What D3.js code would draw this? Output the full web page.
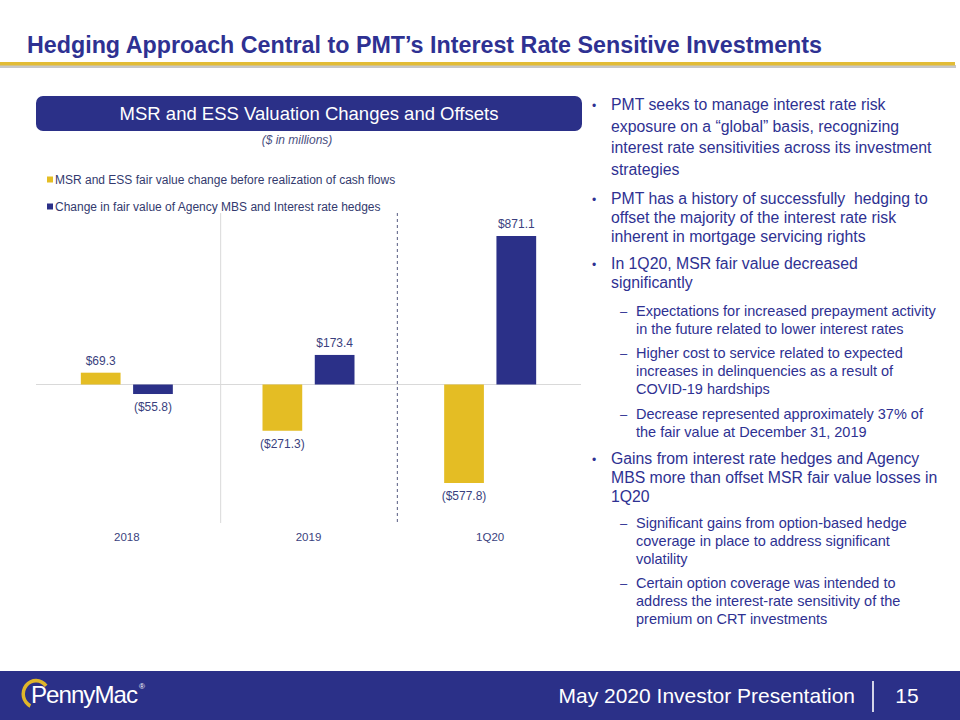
<!DOCTYPE html>
<html><head><meta charset="utf-8">
<script src="https://cdn.jsdelivr.net/npm/d3@7"></script>
<style>
html,body{margin:0;padding:0;background:#fff;}
svg{display:block;font-family:"Liberation Sans",Arial,sans-serif;}
</style></head>
<body>
<svg id="c" width="960" height="720"></svg>
<script>
// ---- data ----
const categories = ["2018", "2019", "1Q20"];
const seriesNames = ["MSR and ESS fair value change before realization of cash flows",
                     "Change in fair value of Agency MBS and Interest rate hedges"];
const msrValues = [69.3, -271.3, -577.8];
const hedgeValues = [-55.8, 173.4, 871.1];
const valueLabels = [["$69.3", "($55.8)"], ["($271.3)", "$173.4"], ["($577.8)", "$871.1"]];

const titleText = "Hedging Approach Central to PMT’s Interest Rate Sensitive Investments";
const panelTitle = "MSR and ESS Valuation Changes and Offsets";
const unitsNote = "($ in millions)";
const footerText = "May 2020 Investor Presentation";
const pageNumber = "15";

const bullets = [
  {level: 1, lines: ["PMT seeks to manage interest rate risk", "exposure on a “global” basis, recognizing", "interest rate sensitivities across its investment", "strategies"]},
  {level: 1, lines: ["PMT has a history of successfully  hedging to", "offset the majority of the interest rate risk", "inherent in mortgage servicing rights"]},
  {level: 1, lines: ["In 1Q20, MSR fair value decreased", "significantly"]},
  {level: 2, lines: ["Expectations for increased prepayment activity", "in the future related to lower interest rates"]},
  {level: 2, lines: ["Higher cost to service related to expected", "increases in delinquencies as a result of", "COVID-19 hardships"]},
  {level: 2, lines: ["Decrease represented approximately 37% of", "the fair value at December 31, 2019"]},
  {level: 1, lines: ["Gains from interest rate hedges and Agency", "MBS more than offset MSR fair value losses in", "1Q20"]},
  {level: 2, lines: ["Significant gains from option-based hedge", "coverage in place to address significant", "volatility"]},
  {level: 2, lines: ["Certain option coverage was intended to", "address the interest-rate sensitivity of the", "premium on CRT investments"]}
];

// ---- styles / layout ----
const NAVY = "#2b3088";
const GOLD = "#e4bd24";
const TXT = "#3a3f7e";
const svg = d3.select("#c");

// Title
svg.append("text").attr("x", 27).attr("y", 53)
  .attr("font-size", 23.5).attr("font-weight", "bold").attr("fill", "#2e3192")
  .style("font-family", "'Liberation Sans Narrow','Arial Narrow','Liberation Sans',Arial,sans-serif")
  .attr("textLength", 795).attr("lengthAdjust", "spacingAndGlyphs")
  .text(titleText);
// gold rule with shadow
svg.append("rect").attr("x", 0).attr("y", 65).attr("width", 956).attr("height", 3).attr("fill", "#c8c8c8");
svg.append("rect").attr("x", 0).attr("y", 62).attr("width", 955).attr("height", 3.5).attr("fill", "#e2bc36");

// Panel header
svg.append("rect").attr("x", 36).attr("y", 96).attr("width", 546).attr("height", 35).attr("rx", 7)
  .attr("fill", NAVY);
svg.append("text").attr("x", 309).attr("y", 120).attr("text-anchor", "middle")
  .attr("font-size", 18.5).attr("fill", "#fff").text(panelTitle);
svg.append("text").attr("x", 297).attr("y", 144).attr("text-anchor", "middle")
  .attr("font-size", 12).attr("font-style", "italic").attr("fill", "#4a4f80").text(unitsNote);

// Legend
const legColors = [GOLD, NAVY];
seriesNames.forEach((s, i) => {
  const ly = 180 + i * 27;
  svg.append("rect").attr("x", 47).attr("y", ly - 3.5).attr("width", 6).attr("height", 6).attr("fill", legColors[i]);
  svg.append("text").attr("x", 55).attr("y", ly + 4).attr("font-size", 12).attr("fill", "#333a6e").text(s);
});

// Chart scales
const x0 = d3.scaleBand().domain(categories).range([36, 581]).padding(0);
const pair = 92;
const x1 = d3.scaleBand().domain([0, 1]).range([x0.bandwidth() / 2 - pair / 2, x0.bandwidth() / 2 + pair / 2]).paddingInner(0.24);
const y = d3.scaleLinear().domain([0, 871.1]).range([384.5, 236]);

const g = svg.append("g");
// separators
g.append("line").attr("x1", x0("2019") + 3).attr("x2", x0("2019") + 3).attr("y1", 213).attr("y2", 523)
  .attr("stroke", "#d9d9d9").attr("stroke-width", 1);
g.append("line").attr("x1", x0("1Q20") - 2).attr("x2", x0("1Q20") - 2).attr("y1", 213).attr("y2", 523)
  .attr("stroke", "#555a80").attr("stroke-width", 1).attr("stroke-dasharray", "3,3");
// baseline
g.append("line").attr("x1", 36).attr("x2", 581).attr("y1", y(0)).attr("y2", y(0))
  .attr("stroke", "#d9d9d9").attr("stroke-width", 1.2);

const rows = categories.map((c, i) => ({c, vals: [msrValues[i], hedgeValues[i]], labels: valueLabels[i]}));
rows.forEach(r => {
  r.vals.forEach((v, k) => {
    const xx = x0(r.c) + x1(k);
    g.append("rect").attr("x", xx).attr("width", x1.bandwidth())
      .attr("y", Math.min(y(v), y(0))).attr("height", Math.abs(y(v) - y(0)))
      .attr("fill", legColors[k]);
    g.append("text").attr("x", xx + x1.bandwidth() / 2)
      .attr("y", v >= 0 ? y(v) - 8 : y(v) + 17)
      .attr("text-anchor", "middle").attr("font-size", 12).attr("fill", TXT).text(r.labels[k]);
  });
  g.append("text").attr("x", x0(r.c) + x0.bandwidth() / 2).attr("y", 541)
    .attr("text-anchor", "middle").attr("font-size", 11.5).attr("fill", TXT).text(r.c);
});

// Bullets
const paraStart = [110, 204, 269, 316, 358, 419, 464, 528, 588];
const bt = svg.append("g").attr("fill", "#2e3192");
bullets.forEach((b, i) => {
  const lh = b.level === 1 ? (i === 0 ? 21.7 : 19) : 18;
  const fs = b.level === 1 ? 15.8 : 14.5;
  const tx = b.level === 1 ? 611 : 636;
  const mx = b.level === 1 ? 592 : 620;
  bt.append("text").attr("x", mx).attr("y", paraStart[i]).attr("font-size", b.level === 1 ? 12 : 13)
    .text(b.level === 1 ? "•" : "–");
  b.lines.forEach((ln, j) => {
    bt.append("text").attr("x", tx).attr("y", paraStart[i] + j * lh).attr("font-size", fs)
      .attr("xml:space", "preserve").style("white-space", "pre").text(ln);
  });
});

// Footer
svg.append("rect").attr("x", 0).attr("y", 671).attr("width", 960).attr("height", 49).attr("fill", NAVY);
svg.append("text").attr("x", 855).attr("y", 703).attr("text-anchor", "end")
  .attr("font-size", 21).attr("fill", "#fff").text(footerText);
svg.append("line").attr("x1", 873).attr("x2", 873).attr("y1", 681).attr("y2", 712)
  .attr("stroke", "#fff").attr("stroke-width", 1.6);
svg.append("text").attr("x", 907).attr("y", 703).attr("text-anchor", "middle")
  .attr("font-size", 21).attr("fill", "#fff").text(pageNumber);
// Logo
const logo = svg.append("g");
logo.append("path").attr("d", d3.arc()({innerRadius: 11, outerRadius: 14.5, startAngle: 3.6, endAngle: 7.2}))
  .attr("transform", "translate(36,694) scale(1,1.05)").attr("fill", "#e0b62a");
logo.append("text").attr("x", 31).attr("y", 703).attr("font-size", 24).attr("fill", "#fff")
  .attr("letter-spacing", -1).attr("textLength", 106).attr("lengthAdjust", "spacingAndGlyphs").text("PennyMac");
logo.append("text").attr("x", 139).attr("y", 689).attr("font-size", 8).attr("fill", "#fff").text("®");
</script>
</body></html>
